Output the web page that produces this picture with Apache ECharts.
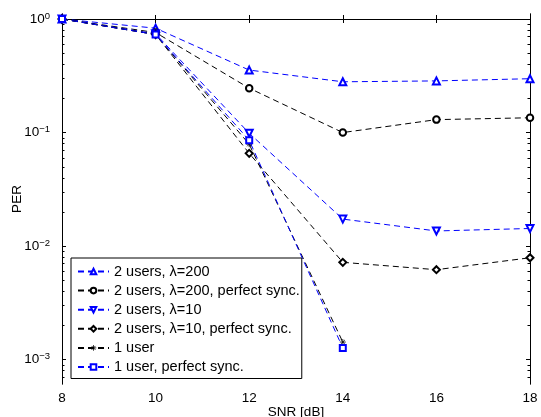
<!DOCTYPE html>
<html>
<head>
<meta charset="utf-8">
<script src="https://cdn.jsdelivr.net/npm/echarts@6/dist/echarts.min.js"></script>
<style>
  html, body { margin: 0; padding: 0; background: #fff; }
  #chart { width: 541px; height: 417px; }
</style>
</head>
<body>
<div id="chart"></div>
<script>
// SNR 横轴
const snr = [8, 10, 12, 14, 16, 18];
// PER 数据
const perL200 = [1.0, 0.83, 0.355, 0.28, 0.285, 0.298];
const perL200Sync = [1.0, 0.76, 0.246, 0.1, 0.13, 0.135];
const perL10 = [1.0, 0.74, 0.0986, 0.0173, 0.0136, 0.0143];
const perL10Sync = [1.0, 0.73, 0.0656, 0.0072, 0.0062, 0.0079];
const per1User = [1.0, 0.73, 0.079, 0.00143];
const per1UserSync = [1.0, 0.73, 0.0855, 0.00127];
const xTicks = [8, 10, 12, 14, 16, 18];
const yDecades = [-3, -2, -1, 0];

const names = [
  "2 users, λ=200",
  "2 users, λ=200, perfect sync.",
  "2 users, λ=10",
  "2 users, λ=10, perfect sync.",
  "1 user",
  "1 user, perfect sync.",
];

const yMin = -3.214;
const yMax = 0.044;

// 次刻度 log10(k * 10^n)
const minor = [];
for (let n = -4; n <= 0; n++) {
  for (let k = 2; k <= 9; k++) {
    const v = Math.log10(k) + n;
    if (v > yMin && v < yMax) minor.push(v);
  }
}

const toPairs = (arr) => arr.map((v, i) => [snr[i], Math.log10(v)]);

const star = "path://M0,-5L0,5M-5,0L5,0M-3.5,-3.5L3.5,3.5M-3.5,3.5L3.5,-3.5";

const mk = (name, data, color, symbol, rotate) => ({
  name: name,
  type: "line",
  data: toPairs(data),
  symbol: symbol,
  symbolSize: 7,
  symbolRotate: rotate || 0,
  showAllSymbol: true,
  lineStyle: { color: color, width: 1, type: [6, 4] },
  itemStyle: { color: color, borderColor: color, borderWidth: 0.8 },
  emphasis: { disabled: true },
  animation: false,
});

const series = [
  mk(names[0], perL200, "#0000ff", "emptyTriangle"),
  mk(names[1], perL200Sync, "#000000", "emptyCircle"),
  mk(names[2], perL10, "#0000ff", "emptyTriangle", 180),
  mk(names[3], perL10Sync, "#000000", "emptyDiamond"),
  mk(names[4], per1User, "#000000", star),
  mk(names[5], per1UserSync, "#0000ff", "emptyRect"),
];
series[1].symbolSize = 6.5;
series[4].symbolSize = 6;
series[5].symbolSize = 6;

const font = "Liberation Sans, Arial, Helvetica, sans-serif";
const lineBlack = { show: true, lineStyle: { color: "#000", width: 1 } };

const yBase = {
  type: "value",
  min: yMin,
  max: yMax,
  axisLine: lineBlack,
  splitLine: { show: false },
};

const chart = echarts.init(document.getElementById("chart"));
const option = {
  backgroundColor: "#fff",
  animation: false,
  textStyle: { fontFamily: font },
  grid: { left: 62, right: 11, top: 14, bottom: 33, outerBoundsMode: "none", containLabel: false },
  legend: {
    orient: "vertical",
    left: 71,
    top: 258,
    padding: [5, 2, 3, 6],
    itemWidth: 31,
    itemHeight: 7,
    itemGap: 2.1,
    backgroundColor: "#fff",
    borderColor: "#000",
    borderWidth: 1,
    borderRadius: 0,
    itemStyle: { borderWidth: 0.8 },
    textStyle: { fontSize: 14.5, color: "#000", fontFamily: font, lineHeight: 17 },
    data: names,
  },
  xAxis: [
    {
      type: "value",
      min: 8,
      max: 18,
      interval: 2,
      name: "SNR [dB]",
      nameLocation: "middle",
      nameGap: 21,
      nameMoveOverlap: false,
      nameTextStyle: { fontSize: 13.5, color: "#000" },
      axisLine: lineBlack,
      axisTick: { inside: true, length: 4, lineStyle: { color: "#000" }, customValues: xTicks },
      axisLabel: { fontSize: 13.5, color: "#000", margin: 7, customValues: xTicks },
      splitLine: { show: false },
    },
    {
      type: "value",
      position: "top",
      min: 8,
      max: 18,
      interval: 2,
      axisLine: lineBlack,
      axisTick: { inside: true, length: 4, lineStyle: { color: "#000" } },
      axisLabel: { show: false },
      splitLine: { show: false },
    },
  ],
  yAxis: [
    Object.assign({}, yBase, {
      position: "left",
      name: "PER",
      nameLocation: "middle",
      nameGap: 38,
      nameMoveOverlap: false,
      nameTextStyle: { fontSize: 13.5, color: "#000" },
      axisTick: { inside: true, length: 4, lineStyle: { color: "#000" }, customValues: yDecades },
      axisLabel: {
        margin: 12,
        color: "#000",
        customValues: yDecades,
        formatter: (v) => {
          const n = Math.round(v);
          return "{b|10}{s|" + (n < 0 ? "\u2212" + -n : n) + "}";
        },
        rich: {
          b: { fontSize: 13.5, color: "#000", fontFamily: font, lineHeight: 16 },
          s: { fontSize: 9.5, color: "#000", fontFamily: font, verticalAlign: "top", lineHeight: 16 },
        },
      },
    }),
    Object.assign({}, yBase, {
      position: "left",
      axisTick: { inside: true, length: 2.5, lineStyle: { color: "#000" }, customValues: minor },
      axisLabel: { show: false },
    }),
    Object.assign({}, yBase, {
      position: "right",
      axisTick: { inside: true, length: 4, lineStyle: { color: "#000" }, customValues: yDecades },
      axisLabel: { show: false },
    }),
    Object.assign({}, yBase, {
      position: "right",
      axisTick: { inside: true, length: 2.5, lineStyle: { color: "#000" }, customValues: minor },
      axisLabel: { show: false },
    }),
  ],
  series: series,
};
chart.setOption(option);
</script>
</body>
</html>
